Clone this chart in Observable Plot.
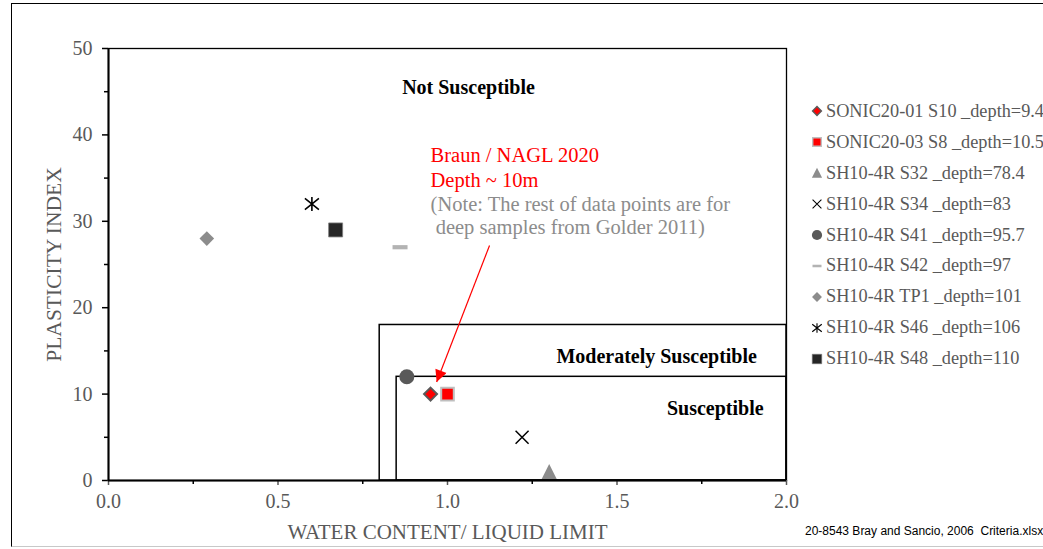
<!DOCTYPE html>
<html>
<head>
<meta charset="utf-8">
<script src="https://cdn.jsdelivr.net/npm/d3@7"></script>
<script src="https://cdn.jsdelivr.net/npm/@observablehq/plot@0.6"></script>
<style>
  html, body { margin: 0; padding: 0; background: #fff; overflow: hidden; }
  #wrap { position: relative; width: 1043px; height: 549px; overflow: hidden; font-family: "Liberation Serif", "Times New Roman", serif; }
  #border { position: absolute; left: 11px; top: 3px; width: 1100px; height: 542px; border-left: 1.5px solid #000; border-top: 1.5px solid #000; border-bottom: 1px solid #c8c8c8; }
  #chart { position: absolute; left: 0; top: 0; }
  #legend { position: absolute; left: 810px; top: 96px; font-size: 18.3px; color: #595959; white-space: nowrap; }
  #legend .row { height: 30.9px; display: flex; align-items: center; }
  #legend svg { width: 14px; height: 14px; margin-right: 2px; flex: none; }
  #caption { position: absolute; left: 805px; top: 524px; font-family: "Liberation Sans", Arial, sans-serif; font-size: 12px; color: #000; white-space: nowrap; }
</style>
</head>
<body>
<div id="wrap">
  <div id="border"></div>
  <div id="chart"></div>
  <div id="legend"></div>
  <div id="caption">20-8543 Bray and Sancio, 2006&nbsp; Criteria.xlsx</div>
</div>
<script>
// ---- data ----
const sampleNames = [
  "SONIC20-01 S10 _depth=9.4",
  "SONIC20-03 S8 _depth=10.5",
  "SH10-4R S32 _depth=78.4",
  "SH10-4R S34 _depth=83",
  "SH10-4R S41 _depth=95.7",
  "SH10-4R S42 _depth=97",
  "SH10-4R TP1 _depth=101",
  "SH10-4R S46 _depth=106",
  "SH10-4R S48 _depth=110"
];
const waterContentRatio = [0.95, 1.00, 1.30, 1.22, 0.88, 0.86, 0.29, 0.60, 0.67];
const plasticityIndex   = [10, 10, 1, 5, 12, 27, 28, 32, 29];

const xTicks = [0, 0.5, 1.0, 1.5, 2.0];
const xMinorTicks = [0.25, 0.75, 1.25, 1.75];
const yTicks = [0, 10, 20, 30, 40, 50];
const yMinorTicks = [5, 15, 25, 35, 45];

// criteria zones (Bray and Sancio 2006): [wc/LL min, PI max]
const zoneNames = ["Moderately Susceptible", "Susceptible"];
const zoneWcMin = [0.8, 0.85];
const zonePiMax = [18, 12];

// annotation text
const notSusceptibleLabel = "Not Susceptible";
const noteRed = ["Braun / NAGL 2020", "Depth ~ 10m"];
const noteGray = ["(Note: The rest of data points are for", "\u00a0deep samples from Golder 2011)"];

// ---- symbols ----
function sym(kind, h) {
  return {
    draw(c) {
      if (kind === "diamond") { c.moveTo(0, -h); c.lineTo(h, 0); c.lineTo(0, h); c.lineTo(-h, 0); c.closePath(); }
      else if (kind === "square") { c.rect(-h, -h, 2 * h, 2 * h); }
      else if (kind === "triangle") { c.moveTo(0, -h * 1.05); c.lineTo(h, h * 0.95); c.lineTo(-h, h * 0.95); c.closePath(); }
      else if (kind === "times") { c.moveTo(-h, -h); c.lineTo(h, h); c.moveTo(h, -h); c.lineTo(-h, h); }
      else if (kind === "asterisk") { c.moveTo(-h, -h * 0.8); c.lineTo(h, h * 0.8); c.moveTo(h, -h * 0.8); c.lineTo(-h, h * 0.8); c.moveTo(0, -h); c.lineTo(0, h); }
      else if (kind === "circle") { c.moveTo(h, 0); c.arc(0, 0, h, 0, 2 * Math.PI); }
      else if (kind === "dash") { c.rect(-h, -h * 0.28, 2 * h, h * 0.56); }
    }
  };
}

const styles = [
  {kind: "diamond",  h: 6.5, fill: "#ff0000", stroke: "#595959", sw: 2},
  {kind: "square",   h: 6.3, fill: "#ff0000", stroke: "#bfbfbf", sw: 2},
  {kind: "triangle", h: 7.5, fill: "#8c8c8c", stroke: "none",    sw: 0},
  {kind: "times",    h: 6.5, fill: "none",    stroke: "#000000", sw: 1.5},
  {kind: "circle",   h: 7.5, fill: "#595959", stroke: "none",    sw: 0},
  {kind: "dash",     h: 7.5, fill: "#b3b3b3", stroke: "none",    sw: 0},
  {kind: "diamond",  h: 7.3, fill: "#8c8c8c", stroke: "none",    sw: 0},
  {kind: "asterisk", h: 7,   fill: "none",    stroke: "#000000", sw: 1.6},
  {kind: "square",   h: 7,   fill: "#262626", stroke: "#7f7f7f", sw: 0.8}
];

const rows = sampleNames.map((name, i) => ({name, x: waterContentRatio[i], y: plasticityIndex[i], i}));
const zones = zoneNames.map((name, i) => ({name, x1: zoneWcMin[i], x2: 2, y1: 0, y2: zonePiMax[i]}));

const gray = "#595959";
const serif = "Liberation Serif, Times New Roman, serif";

const pointMarks = rows.map(d => {
  const s = styles[d.i];
  return Plot.dot([d], {x: "x", y: "y", symbol: sym(s.kind, s.h), r: 5, fill: s.fill, stroke: s.stroke, strokeWidth: s.sw});
});

// filled arrow head marker
function filledHead(color, context) {
  const ns = "http://www.w3.org/2000/svg";
  const m = context.document.createElementNS(ns, "marker");
  m.setAttribute("viewBox", "0 -5 10 10");
  m.setAttribute("refX", "10");
  m.setAttribute("refY", "0");
  m.setAttribute("markerWidth", "15");
  m.setAttribute("markerHeight", "12");
  m.setAttribute("markerUnits", "userSpaceOnUse");
  m.setAttribute("orient", "auto");
  const p = context.document.createElementNS(ns, "path");
  p.setAttribute("d", "M0,-5L10,0L0,5Z");
  p.setAttribute("fill", color);
  p.setAttribute("stroke", "none");
  m.appendChild(p);
  return m;
}

const chart = Plot.plot({
  width: 1043,
  height: 549,
  marginLeft: 108,
  marginRight: 257,
  marginTop: 48,
  marginBottom: 69,
  style: {background: "transparent", fontFamily: serif, overflow: "visible"},
  x: {domain: [0, 2]},
  y: {domain: [0, 50]},
  marks: [
    Plot.frame({stroke: "#000", strokeWidth: 1.3}),
    Plot.rect(zones, {x1: "x1", x2: "x2", y1: "y1", y2: "y2", fill: "none", stroke: "#000", strokeWidth: 1.5}),
    // axes
    Plot.axisY({ticks: yTicks, tickSize: 6, tickPadding: 10, tickFormat: d => d, fontSize: 20, color: gray, stroke: "#000", strokeWidth: 1.5, label: null}),
    Plot.axisY({ticks: yMinorTicks, tickSize: 4, tickFormat: () => "", label: null, strokeWidth: 1.5}),
    Plot.axisX({ticks: xTicks, tickSize: 5, tickPadding: 8, tickFormat: d3.format(".1f"), fontSize: 20, color: gray, strokeWidth: 1.5, label: null}),
    Plot.axisX({ticks: xMinorTicks, tickSize: 4, tickFormat: () => "", label: null, strokeWidth: 1.5}),
    Plot.ruleY([0], {stroke: "#000", strokeWidth: 2}),
    Plot.ruleX([0], {stroke: "#000", strokeWidth: 2}),
    // axis titles
    Plot.text(["PLASTICITY INDEX"], {frameAnchor: "left", textAnchor: "middle", dx: -54, rotate: -90, fontSize: 21.5, fill: gray}),
    Plot.text(["WATER CONTENT/ LIQUID LIMIT"], {frameAnchor: "bottom", textAnchor: "middle", lineAnchor: "middle", dy: 52, fontSize: 21, fill: gray}),
    // zone labels
    Plot.text([notSusceptibleLabel], {x: 1.062, y: 45.5, fontSize: 20, fontWeight: "bold", fill: "#000"}),
    Plot.text([zoneNames[0]], {x: 1.617, y: 14.35, fontSize: 20, fontWeight: "bold", fill: "#000"}),
    Plot.text([zoneNames[1]], {x: 1.79, y: 8.33, fontSize: 20, fontWeight: "bold", fill: "#000"}),
    // notes
    Plot.text(noteRed, {x: 0.95, y: (d, i) => [37.6, 34.7][i], text: d => d, textAnchor: "start", fontSize: 20.5, fill: "#ff0000"}),
    Plot.text(noteGray, {x: 0.95, y: (d, i) => [31.9, 29.3][i], text: d => d, textAnchor: "start", fontSize: 20.5, fill: "#8c8c8c"}),
    Plot.link([{x1: 1.124, y1: 27.2, x2: 0.968, y2: 11.4}], {x1: "x1", y1: "y1", x2: "x2", y2: "y2", stroke: "#ff0000", strokeWidth: 1.2, markerEnd: filledHead}),
    ...pointMarks
  ]
});
document.getElementById("chart").appendChild(chart);

// legend
const legend = d3.select("#legend");
rows.forEach(d => {
  const s = styles[d.i];
  const row = legend.append("div").attr("class", "row");
  const svg = row.append("svg").attr("viewBox", "-7 -7 14 14");
  const p = d3.path();
  const scale = s.kind === "dash" ? 0.6 : 0.68;
  sym(s.kind, s.h * scale).draw(p);
  svg.append("path").attr("d", p.toString()).attr("fill", s.fill).attr("stroke", s.stroke).attr("stroke-width", s.sw * 0.7);
  row.append("span").text(d.name);
});
</script>
</body>
</html>
